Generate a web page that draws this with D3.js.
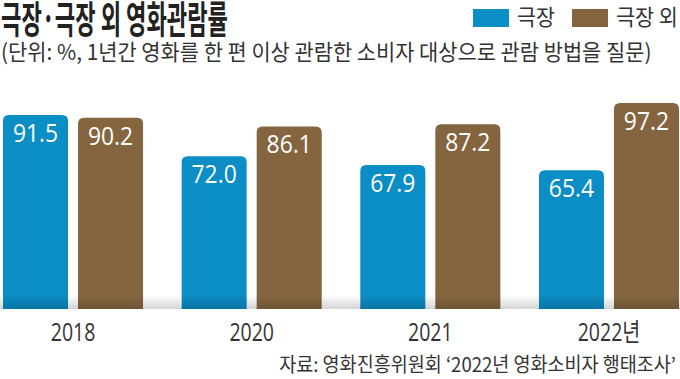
<!DOCTYPE html>
<html><head><meta charset="utf-8">
<script src="https://cdn.jsdelivr.net/npm/d3@7"></script>
<style>body{margin:0;background:#fff}svg{display:block}</style>
</head><body>
<div id="chart"></div>
<script>
const years = ["2018", "2020", "2021", "2022년"];
const seriesNames = ["극장", "극장 외"];
const theater = [91.5, 72.0, 67.9, 65.4];
const nonTheater = [90.2, 86.1, 87.2, 97.2];
const colors = ["#0b8dc5", "#84653f"];
const title = "극장·극장 외 영화관람률";
const subtitle = "(단위: %, 1년간 영화를 한 편 이상 관람한 소비자 대상으로 관람 방법을 질문)";
const source = "자료: 영화진흥위원회 ‘2022년 영화소비자 행태조사’";

const W = 680, H = 379;
const svg = d3.select("#chart").append("svg").attr("width", W).attr("height", H);
const kr = "'Noto Sans CJK KR','Noto Sans',sans-serif";

function fitText(sel, txt, x, yb, width, anchor) {
  const t = sel.append("text").text(txt).attr("text-anchor", anchor || "start");
  return {t, place() {
    const w = t.node().getComputedTextLength();
    t.attr("transform", `translate(${x},${yb}) scale(${width / w},1)`);
    return t;
  }};
}

const data = years.map((y, i) => ({year: y, values: [theater[i], nonTheater[i]]}));

const x0 = d3.scaleBand().domain(years).range([3, 679]).paddingInner(0.216).paddingOuter(0);
const x1 = d3.scaleBand().domain(seriesNames).range([0, x0.bandwidth()]).paddingInner(0.1333);
const y = d3.scaleLinear().domain([0, 100]).range([309, 97]);

const defs = svg.append("defs");
const g = defs.append("linearGradient").attr("id", "shade").attr("x1", 0).attr("x2", 0).attr("y1", 0).attr("y2", 1);
g.append("stop").attr("offset", "0%").attr("stop-color", "#000").attr("stop-opacity", 0);
g.append("stop").attr("offset", "100%").attr("stop-color", "#000").attr("stop-opacity", 0.17);

// title
const ti = fitText(svg, title, 1, 33, 227);
ti.t.attr("font-family", kr).attr("font-weight", 700).attr("font-size", 38).attr("fill", "#222");
ti.place();
const st = fitText(svg, subtitle, 1, 60, 651);
st.t.attr("font-family", kr).attr("font-size", 22).attr("fill", "#333");
st.place();

// legend
const legX = [473, 572], legTW = [38, 62];
seriesNames.forEach((s, i) => {
  svg.append("rect").attr("x", legX[i]).attr("y", 9).attr("width", 36).attr("height", 18).attr("fill", colors[i]);
  const lt = fitText(svg, s, legX[i] + 44, 25, legTW[i]);
  lt.t.attr("font-family", kr).attr("font-size", 22).attr("fill", "#333");
  lt.place();
});

function topRounded(x, yt, w, yb, r) {
  return `M${x},${yb}V${yt + r}Q${x},${yt} ${x + r},${yt}H${x + w - r}Q${x + w},${yt} ${x + w},${yt + r}V${yb}Z`;
}

const groups = svg.append("g").selectAll("g").data(data).join("g")
  .attr("transform", d => `translate(${x0(d.year)},0)`);

groups.selectAll("path").data(d => d.values.map((v, i) => ({v, s: seriesNames[i], i})))
  .join("path")
  .attr("d", d => topRounded(x1(d.s), y(d.v), x1.bandwidth(), y(0), 6))
  .attr("fill", d => colors[d.i]);

groups.selectAll("text.val").data(d => d.values.map((v, i) => ({v, s: seriesNames[i], i})))
  .join("text").attr("class", "val")
  .attr("transform", d => `translate(${x1(d.s) + x1.bandwidth() / 2},${y(d.v) + 27}) scale(0.88,1)`)
  .attr("text-anchor", "middle")
  .attr("font-family", "'Open Sans',sans-serif").attr("font-size", 26).attr("fill", "#fff")
  .text(d => d.v.toFixed(1));

// bottom shade
svg.append("rect").attr("x", 0).attr("y", 295).attr("width", W).attr("height", 14).attr("fill", "url(#shade)");

// year labels
groups.append("text")
  .attr("transform", d => `translate(${x0.bandwidth() / 2},341) scale(0.78,1)`)
  .attr("text-anchor", "middle")
  .attr("font-family", "'Open Sans','Noto Sans CJK KR',sans-serif").attr("font-size", 25).attr("fill", "#333")
  .text(d => d.year);

// source
const so = fitText(svg, source, 676, 372, 397, "end");
so.t.attr("font-family", kr).attr("font-size", 20).attr("fill", "#333");
so.place();
</script>
</body></html>
